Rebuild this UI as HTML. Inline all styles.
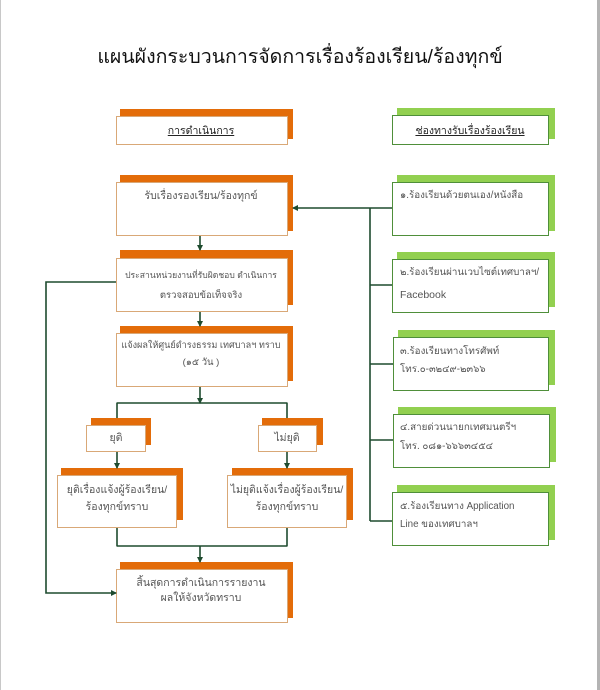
<!DOCTYPE html>
<html>
<head>
<meta charset="utf-8">
<style>
  html,body{margin:0;padding:0;}
  body{width:600px;height:690px;position:relative;background:#fff;overflow:hidden;
    font-family:"Liberation Sans","DejaVu Sans",sans-serif;}
  .edgeL{position:absolute;left:0;top:0;width:1px;height:690px;background:#c8c8c8;}
  .edgeR{position:absolute;left:597px;top:0;width:3px;height:690px;background:#b4b4b4;}
  .sh{position:absolute;}
  .o{background:#e36c09;}
  .g{background:#92d050;}
  .bx{position:absolute;background:#fff;box-sizing:border-box;}
  .bo{border:1px solid #d9a877;}
  .bg{border:1px solid #4f8f3a;}
  .t{position:absolute;white-space:nowrap;line-height:16px;height:16px;color:#555;font-size:10.5px;}
  .gt{font-size:9.8px;}
  .c{transform:translateX(-50%);}
  .title{position:absolute;left:300px;top:43px;transform:translateX(-50%);white-space:nowrap;
    font-size:19.5px;line-height:28px;color:#111;}
  .hd{color:#222;text-decoration:underline;font-size:10.5px;}
  svg{position:absolute;left:0;top:0;}
</style>
</head>
<body>
<div class="edgeL"></div>
<div class="edgeR"></div>

<div class="title">แผนผังกระบวนการจัดการเรื่องร้องเรียน/ร้องทุกข์</div>

<!-- orange shadows -->
<div class="sh o" style="left:120px;top:109px;width:173px;height:30px"></div>
<div class="sh o" style="left:120px;top:175px;width:173px;height:56px"></div>
<div class="sh o" style="left:120px;top:250px;width:173px;height:55px"></div>
<div class="sh o" style="left:120px;top:326px;width:173px;height:55px"></div>
<div class="sh o" style="left:91px;top:418px;width:60px;height:27px"></div>
<div class="sh o" style="left:262px;top:418px;width:61px;height:27px"></div>
<div class="sh o" style="left:61px;top:468px;width:122px;height:52px"></div>
<div class="sh o" style="left:232px;top:468px;width:121px;height:52px"></div>
<div class="sh o" style="left:120px;top:562px;width:173px;height:56px"></div>

<!-- green shadows -->
<div class="sh g" style="left:397px;top:108px;width:158px;height:31px"></div>
<div class="sh g" style="left:397px;top:175px;width:158px;height:56px"></div>
<div class="sh g" style="left:397px;top:252px;width:158px;height:55px"></div>
<div class="sh g" style="left:398px;top:330px;width:157px;height:55px"></div>
<div class="sh g" style="left:398px;top:407px;width:158px;height:55px"></div>
<div class="sh g" style="left:397px;top:485px;width:158px;height:55px"></div>

<!-- orange boxes -->
<div class="bx bo" style="left:116px;top:116px;width:172px;height:29px"></div>
<div class="bx bo" style="left:116px;top:182px;width:172px;height:54px"></div>
<div class="bx bo" style="left:116px;top:258px;width:172px;height:54px"></div>
<div class="bx bo" style="left:116px;top:333px;width:172px;height:54px"></div>
<div class="bx bo" style="left:86px;top:425px;width:60px;height:27px"></div>
<div class="bx bo" style="left:258px;top:425px;width:59px;height:27px"></div>
<div class="bx bo" style="left:57px;top:475px;width:120px;height:53px"></div>
<div class="bx bo" style="left:227px;top:475px;width:120px;height:53px"></div>
<div class="bx bo" style="left:116px;top:569px;width:172px;height:54px"></div>

<!-- green boxes -->
<div class="bx bg" style="left:392px;top:115px;width:157px;height:30px"></div>
<div class="bx bg" style="left:392px;top:182px;width:157px;height:54px"></div>
<div class="bx bg" style="left:392px;top:259px;width:157px;height:54px"></div>
<div class="bx bg" style="left:393px;top:337px;width:156px;height:54px"></div>
<div class="bx bg" style="left:393px;top:414px;width:157px;height:54px"></div>
<div class="bx bg" style="left:392px;top:492px;width:157px;height:54px"></div>

<!-- connectors -->
<svg width="600" height="690" viewBox="0 0 600 690">
  <defs>
    <marker id="ah" markerWidth="6" markerHeight="6" refX="5" refY="3" orient="auto" markerUnits="userSpaceOnUse">
      <path d="M0,0 L6,3 L0,6 Z" fill="#1e4b2f"/>
    </marker>
  </defs>
  <g stroke="#1e4b2f" stroke-width="1.6" fill="none">
    <line x1="200" y1="236" x2="200" y2="250" marker-end="url(#ah)"/>
    <line x1="200" y1="312" x2="200" y2="326" marker-end="url(#ah)"/>
    <line x1="200" y1="387" x2="200" y2="403" marker-end="url(#ah)"/>
    <line x1="116.5" y1="403" x2="287.5" y2="403"/>
    <line x1="117" y1="403" x2="117" y2="418"/>
    <line x1="287" y1="403" x2="287" y2="418"/>
    <line x1="117" y1="452" x2="117" y2="468" marker-end="url(#ah)"/>
    <line x1="287" y1="452" x2="287" y2="468" marker-end="url(#ah)"/>
    <line x1="117" y1="528" x2="117" y2="546"/>
    <line x1="287" y1="528" x2="287" y2="546"/>
    <line x1="116.5" y1="546" x2="287.5" y2="546"/>
    <line x1="200" y1="546" x2="200" y2="562" marker-end="url(#ah)"/>
    <polyline points="116,282 46,282 46,593 116,593" marker-end="url(#ah)"/>
    <line x1="392" y1="208" x2="293" y2="208" marker-end="url(#ah)"/>
    <line x1="370" y1="208" x2="370" y2="521"/>
    <line x1="370" y1="285" x2="392" y2="285"/>
    <line x1="370" y1="364" x2="393" y2="364"/>
    <line x1="370" y1="440" x2="393" y2="440"/>
    <line x1="370" y1="521" x2="392" y2="521"/>
  </g>
</svg>

<!-- texts -->
<div class="t c hd" style="left:201px;top:123px">การดำเนินการ</div>
<div class="t c hd" style="left:470px;top:123px">ช่องทางรับเรื่องร้องเรียน</div>

<div class="t c" style="left:201px;top:188px">รับเรื่องรองเรียน/ร้องทุกข์</div>
<div class="t c" style="left:201px;top:267px;font-size:8.6px">ประสานหน่วยงานที่รับผิดชอบ ดำเนินการ</div>
<div class="t c" style="left:201px;top:288px;font-size:9.5px">ตรวจสอบข้อเท็จจริง</div>
<div class="t c" style="left:201px;top:337px;font-size:9.1px">แจ้งผลให้ศูนย์ดำรงธรรม เทศบาลฯ ทราบ</div>
<div class="t c" style="left:201px;top:355px;font-size:9.5px">(๑๕ วัน )</div>
<div class="t c" style="left:116px;top:430px">ยุติ</div>
<div class="t c" style="left:287px;top:430px">ไม่ยุติ</div>
<div class="t c" style="left:117px;top:482px">ยุติเรื่องแจ้งผู้ร้องเรียน/</div>
<div class="t c" style="left:117px;top:499px">ร้องทุกข์ทราบ</div>
<div class="t c" style="left:287px;top:482px">ไม่ยุติแจ้งเรื่องผู้ร้องเรียน/</div>
<div class="t c" style="left:287px;top:499px">ร้องทุกข์ทราบ</div>
<div class="t c" style="left:201px;top:575px">สิ้นสุดการดำเนินการรายงาน</div>
<div class="t c" style="left:201px;top:590px">ผลให้จังหวัดทราบ</div>

<div class="t gt" style="left:400px;top:188px">๑.ร้องเรียนด้วยตนเอง/หนังสือ</div>
<div class="t gt" style="left:400px;top:265px">๒.ร้องเรียนผ่านเวบไซต์เทศบาลฯ/</div>
<div class="t" style="left:400px;top:287px">Facebook</div>
<div class="t gt" style="left:400px;top:344px">๓.ร้องเรียนทางโทรศัพท์</div>
<div class="t gt" style="left:400px;top:362px">โทร.๐-๓๒๔๙-๒๓๖๖</div>
<div class="t gt" style="left:400px;top:420px">๔.สายด่วนนายกเทศมนตรีฯ</div>
<div class="t gt" style="left:400px;top:439px">โทร. ๐๘๑-๖๖๖๓๔๕๔</div>
<div class="t gt" style="left:400px;top:499px">๕.ร้องเรียนทาง Application</div>
<div class="t gt" style="left:400px;top:517px">Line ของเทศบาลฯ</div>
</body>
</html>
